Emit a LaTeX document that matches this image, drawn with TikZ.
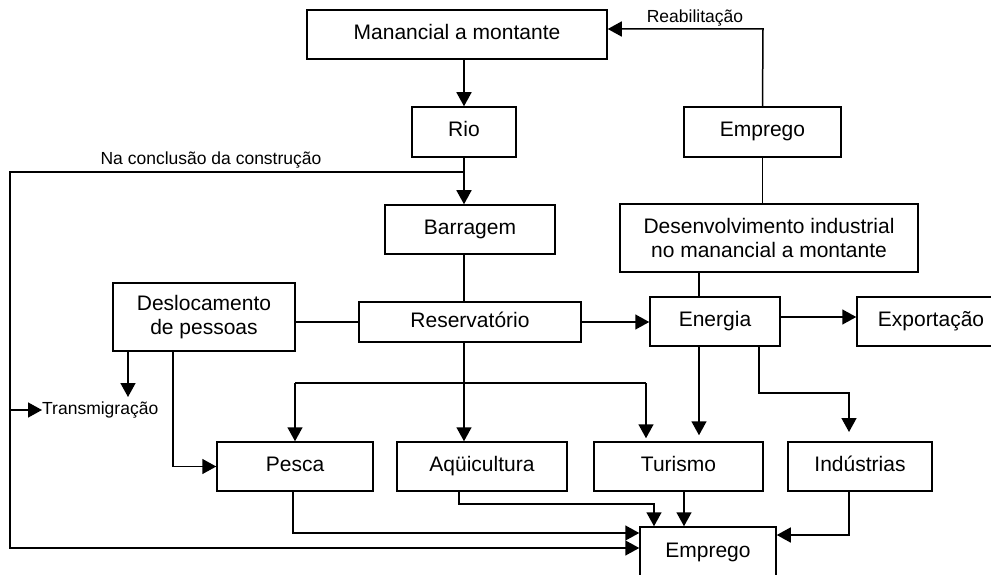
\documentclass[tikz,border=0pt]{standalone}
\usepackage{fontspec}
\setmainfont{Liberation Sans}
\usetikzlibrary{arrows.meta,calc}
\begin{document}
\begin{tikzpicture}[x=1pt,y=-1pt,
  boxbase/.style={draw,line width=1.5pt,inner sep=0pt,align=center,font=\fontsize{21}{24}\selectfont},
  box/.style={boxbase,text height=15pt,text depth=5pt},
  lbl/.style={inner sep=0pt,font=\fontsize{17.5}{20}\selectfont},
  ln/.style={line width=1.5pt},
  arr/.style={line width=1.5pt,-{Triangle[length=14pt,width=15pt]}}]
\useasboundingbox (0,0) rectangle (991,575);
% boxes
\node[box,minimum width=300pt,minimum height=49pt] (man) at (457,34.5) {Manancial a montante};
\node[box,minimum width=104pt,minimum height=50pt] (rio) at (464,132) {Rio};
\node[box,minimum width=170pt,minimum height=49pt] (bar) at (470,229.5) {Barragem};
\node[box,minimum width=157pt,minimum height=50pt] (emp1) at (762.5,132) {Emprego};
\node[boxbase,minimum width=298pt,minimum height=68pt] (des) at (769,238) {Desenvolvimento industrial\\no manancial a montante};
\node[boxbase,minimum width=182pt,minimum height=68pt] (dsl) at (204,317) {Deslocamento\\de pessoas};
\node[box,minimum width=222pt,minimum height=40pt] (res) at (470,322) {Reservatório};
\node[box,minimum width=130pt,minimum height=49pt] (ene) at (715,321.5) {Energia};
\node[box,minimum width=148pt,minimum height=49pt] (exp) at (931,321.5) {Exportação};
\node[box,minimum width=156pt,minimum height=49pt] (pes) at (295,466.5) {Pesca};
\node[box,minimum width=170pt,minimum height=49pt] (aqu) at (482,466.5) {Aqüicultura};
\node[box,minimum width=169pt,minimum height=49pt] (tur) at (678.5,466.5) {Turismo};
\node[box,minimum width=144pt,minimum height=49pt] (ind) at (860,466.5) {Indústrias};
\node[box,minimum width=136pt,minimum height=50pt] (emp2) at (708,552) {Emprego};
% labels
\node[lbl] (lna) at (211,160) {Na conclusão da construção};
\node[lbl,anchor=west] (ltr) at (42,410) {Transmigração};
\node[lbl] (lre) at (695,18) {Reabilitação};
% coordinates
\coordinate (jn) at (464,172);
\coordinate (lt) at (10,172);
\coordinate (lb) at (10,548);
\coordinate (tm) at (10,410);
\coordinate (t1) at (128,397);
\coordinate (dp) at (173,466.5);
\coordinate (rb) at (763,29);
\coordinate (e1) at (699,297);
\coordinate (e2) at (759,393);
\coordinate (i1) at (849,393);
\coordinate (i2) at (849,432);
\coordinate (r1) at (295,383);
\coordinate (r2) at (646,383);
\coordinate (p1) at (293,533);
\coordinate (a1) at (459,504);
\coordinate (a2) at (654,504);
\coordinate (u1) at (684,491);
\coordinate (n1) at (849,535);
\coordinate (x1) at (780,317);
% connectors
\draw[arr] (rio.north |- man.south) -- (rio.north);
\draw[arr] (rio.south) -- (rio.south |- bar.north);
\draw[arr] (jn) -- (lt) -- (lb) -- (lb -| emp2.west);
\draw[arr] (tm) -- (ltr.west);
\draw[arr] (t1 |- dsl.south) -- (t1);
\draw[arr] (dp |- dsl.south) -- (dp) -- (pes.west);
\draw[ln] (res.west) -- (res.west -| dsl.east);
\draw[ln] (jn |- bar.south) -- (jn |- res.north);
\draw[arr] (res.east) -- (res.east -| ene.west);
\draw[ln] (emp1.south) -- (emp1.south |- des.north);
\draw[arr] (emp1.north) -- (rb) -- (rb -| man.east);
\draw[ln] (e1 |- des.south) -- (e1);
\draw[arr] (x1) -- (x1 -| exp.west);
\draw[arr,shorten >=6pt] (e1 |- ene.south) -- (e1 |- tur.north);
\draw[arr] (e2 |- ene.south) -- (e2) -- (i1) -- (i2);
\draw[arr] (jn |- res.south) -- (jn |- aqu.north);
\draw[ln] (r1) -- (r2);
\draw[arr] (r1) -- (r1 |- pes.north);
\draw[arr,shorten >=3pt] (r2) -- (r2 |- tur.north);
\draw[arr] (p1 |- pes.south) -- (p1) -- (p1 -| emp2.west);
\draw[arr] (a1 |- aqu.south) -- (a1) -- (a2) -- (a2 |- emp2.north);
\draw[arr] (u1) -- (u1 |- emp2.north);
\draw[arr] (n1 |- ind.south) -- (n1) -- (n1 -| emp2.east);
\end{tikzpicture}
\end{document}
